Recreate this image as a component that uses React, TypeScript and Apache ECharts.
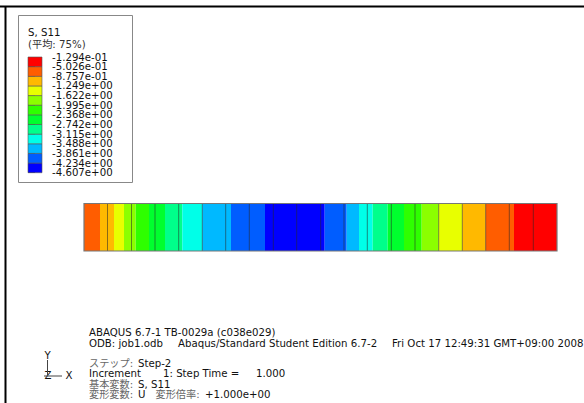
import React, { useEffect, useRef } from "react";
import * as echarts from "echarts";

const bandColors = ["#0000ff","#005dff","#00b9ff","#00ffe8","#00ff8b","#00ff2e","#2eff00","#8bff00","#e8ff00","#ffb900","#ff5d00","#ff0000"];
const tickLabels = ["-4.607e+00","-4.234e+00","-3.861e+00","-3.488e+00","-3.115e+00","-2.742e+00","-2.368e+00","-1.995e+00","-1.622e+00","-1.249e+00","-8.757e-01","-5.026e-01","-1.294e-01"];
// contour band sequence along the beam: end position and colour index
const bandEnds = [16,30,40,51.7,65,81,98.3,118.3,147,181,240.7,262.7,275,288.7,303.7,320,337.7,354.7,378.3,401.7,430,473];
const bandIndex = [10,9,8,7,6,5,4,3,2,1,0,1,2,3,4,5,6,7,8,9,10,11];
// element edges along the beam
const elementEdges = [23.5,47.5,71,94.7,118.3,141.7,165.3,189.3,212.7,236.7,260,283.3,307.3,331,354.7,378.3,401.7,425.3,449.3];
const legendIndex = bandColors.map((_, i) => i);

const FONT = '"DejaVu Sans","Noto Sans CJK JP",sans-serif';

const txt = (x: number, y: number, text: string, fontSize = 10.2, fill = "#111") => ({
  type: "text", x, y, silent: true,
  style: { text, fontSize, fill, fontFamily: FONT, textAlign: "left", textVerticalAlign: "middle" },
});
const ln = (x1: number, y1: number, x2: number, y2: number, stroke: string, lineWidth: number) => ({
  type: "line", silent: true, shape: { x1, y1, x2, y2 }, style: { stroke, lineWidth },
});

export default function App() {
  const ref = useRef<HTMLDivElement>(null);
  useEffect(() => {
    const chart = echarts.init(ref.current!, null, { renderer: "svg" });
    const beamData = bandEnds.map((end, i) => [i === 0 ? 0 : bandEnds[i - 1], end, bandIndex[i]]);
    chart.setOption({
      animation: false,
      backgroundColor: "#fff",
      grid: [
        { left: 84, top: 203.5, width: 473, height: 47.5, containLabel: false },
        { left: 28, top: 57, width: 14, height: 115.7, containLabel: false },
      ],
      xAxis: [
        { type: "value", gridIndex: 0, min: 0, max: 473, show: false },
        { type: "value", gridIndex: 1, min: 0, max: 1, show: false },
      ],
      yAxis: [
        { type: "value", gridIndex: 0, min: 0, max: 1, show: false },
        {
          type: "value", gridIndex: 1, min: 0, max: 12, interval: 1, position: "right",
          axisLine: { show: false },
          splitLine: { show: false },
          axisTick: { show: true, length: 7, lineStyle: { color: "#666", width: 1 } },
          axisLabel: { show: false },
        },
      ],
      series: [
        {
          type: "custom", xAxisIndex: 0, yAxisIndex: 0, data: beamData, silent: true,
          encode: { x: [0, 1] },
          renderItem: (_: any, api: any) => {
            const a = api.coord([api.value(0), 1]);
            const b = api.coord([api.value(1), 0]);
            return { type: "rect", shape: { x: a[0], y: a[1], width: b[0] - a[0], height: b[1] - a[1] }, style: { fill: bandColors[api.value(2)] } };
          },
        },
        {
          type: "custom", xAxisIndex: 0, yAxisIndex: 0, data: elementEdges.map((e) => [e]), silent: true, z: 3,
          encode: { x: 0 },
          renderItem: (_: any, api: any) => {
            const a = api.coord([api.value(0), 1]);
            const b = api.coord([api.value(0), 0]);
            return { type: "line", shape: { x1: a[0], y1: a[1], x2: b[0], y2: b[1] }, style: { stroke: "rgba(40,40,40,0.55)", lineWidth: 1 } };
          },
        },
        {
          type: "custom", xAxisIndex: 1, yAxisIndex: 1, data: legendIndex.map((i) => [i]), silent: true,
          encode: { y: 0 },
          renderItem: (_: any, api: any) => {
            const i = api.value(0);
            const a = api.coord([0, i + 1]);
            const b = api.coord([1, i]);
            return { type: "rect", shape: { x: a[0], y: a[1], width: b[0] - a[0], height: b[1] - a[1] }, style: { fill: bandColors[i], stroke: "#555", lineWidth: 0.6 } };
          },
        },
        {
          type: "custom", xAxisIndex: 1, yAxisIndex: 1, data: tickLabels.map((_, i) => [i]), silent: true,
          encode: { y: 0 },
          renderItem: (_: any, api: any) => {
            const i = api.value(0);
            const p = api.coord([1, i]);
            return {
              type: "text", x: p[0] + 10, y: p[1],
              style: { text: tickLabels[i], fontSize: 10.2, fill: "#111", fontFamily: FONT, textAlign: "left", textVerticalAlign: "middle" },
            };
          },
        },
      ],
      graphic: [
        ln(0, 6.5, 584, 6.5, "#000", 2),
        ln(5.5, 6, 5.5, 403, "#000", 2),
        { type: "rect", silent: true, shape: { x: 18.5, y: 15.5, width: 114, height: 167 }, style: { fill: "none", stroke: "#888", lineWidth: 1 } },
        { type: "rect", silent: true, z: 5, shape: { x: 84, y: 203.5, width: 473, height: 47.5 }, style: { fill: "none", stroke: "#777", lineWidth: 1.2 } },
        txt(28, 32, "S, S11"),
        txt(28, 44.5, "(平均: 75%)", 10.2, "#333"),
        txt(89, 332, "ABAQUS 6.7-1 TB-0029a (c038e029)"),
        txt(89, 343, "ODB: job1.odb"),
        txt(178, 343, "Abaqus/Standard Student Edition 6.7-2"),
        txt(392, 343, "Fri Oct 17 12:49:31 GMT+09:00 2008"),
        txt(89, 363, "ステップ:", 10.2, "#666"),
        txt(138, 363, "Step-2"),
        txt(89, 373.5, "Increment"),
        txt(163, 373.5, "1: Step Time ="),
        txt(256, 373.5, "1.000"),
        txt(89, 384.5, "基本変数:", 10.2, "#666"),
        txt(138, 384.5, "S, S11"),
        txt(89, 394.5, "変形変数:", 10.2, "#666"),
        txt(138, 394.5, "U"),
        txt(155.5, 394.5, "変形倍率:", 10.2, "#666"),
        txt(205, 394.5, "+1.000e+00"),
        txt(44.5, 355, "Y"),
        txt(44.5, 375.5, "Z"),
        txt(65.5, 375.5, "X"),
        ln(47.5, 360, 47.5, 375, "#444", 1),
        ln(44, 376, 62, 376, "#444", 1),
      ],
    });
    return () => chart.dispose();
  }, []);
  return <div ref={ref} style={{ position: "fixed", left: 0, top: 0, width: 584, height: 403 }} />;
}
